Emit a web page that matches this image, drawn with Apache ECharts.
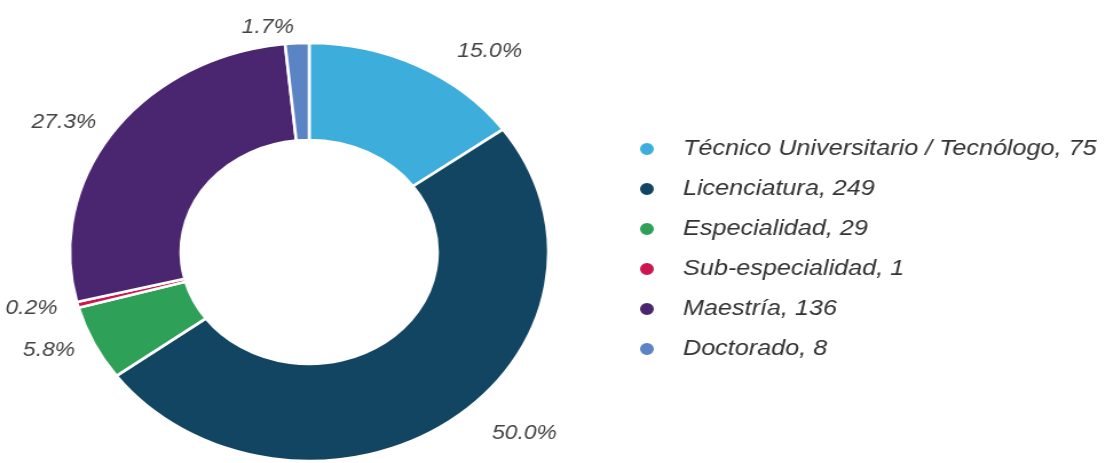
<!DOCTYPE html>
<html>
<head>
<meta charset="utf-8">
<script src="https://cdn.jsdelivr.net/npm/echarts@6/dist/echarts.min.js"></script>
<style>
  html, body { margin: 0; padding: 0; background: #fff; overflow: hidden; }
  /* the source image is stretched horizontally, so the whole chart is too */
  #chart { width: 970px; height: 463px; transform: scaleX(1.145); transform-origin: 0 0; }
</style>
</head>
<body>
<div id="chart"></div>
<script>
const categories = ['Técnico Universitario / Tecnólogo', 'Licenciatura', 'Especialidad', 'Sub-especialidad', 'Maestría', 'Doctorado'];
const counts = [75, 249, 29, 1, 136, 8];
const pctLabels = ['15.0%', '50.0%', '5.8%', '0.2%', '27.3%', '1.7%'];
const colors = ['#3daedc', '#124561', '#2fa057', '#cc1650', '#4b2670', '#5b84c4'];

const chart = echarts.init(document.getElementById('chart'));

chart.setOption({
  animation: false,
  color: colors,
  legend: {
    orient: 'vertical',
    left: 552,
    top: 133,
    icon: 'circle',
    itemWidth: 15,
    itemHeight: 14,
    itemGap: 18,
    textStyle: { fontFamily: 'Liberation Sans', fontStyle: 'italic', fontSize: 22, color: '#333', padding: [0, 0, 0, 19] },
    formatter: name => name + ', ' + counts[categories.indexOf(name)]
  },
  series: [{
    type: 'pie',
    center: [270, 252],
    radius: [112, 209],
    startAngle: 90,
    clockwise: true,
    minAngle: 1.6,
    itemStyle: { borderColor: '#fff', borderWidth: 2.6 },
    label: {
      show: true,
      position: 'outside',
      fontFamily: 'Liberation Sans',
      fontStyle: 'italic',
      fontSize: 20,
      color: '#444',
      overflow: 'none',
      distanceToLabelLine: 2,
      // left padding only pushes the right-hand labels outward
      padding: [0, 0, 0, 25],
      formatter: p => pctLabels[p.dataIndex]
    },
    labelLine: { show: false, length: 16, length2: 0 },
    emphasis: { disabled: true },
    data: categories.map((c, i) => ({ name: c, value: counts[i] }))
  }]
});
</script>
</body>
</html>
